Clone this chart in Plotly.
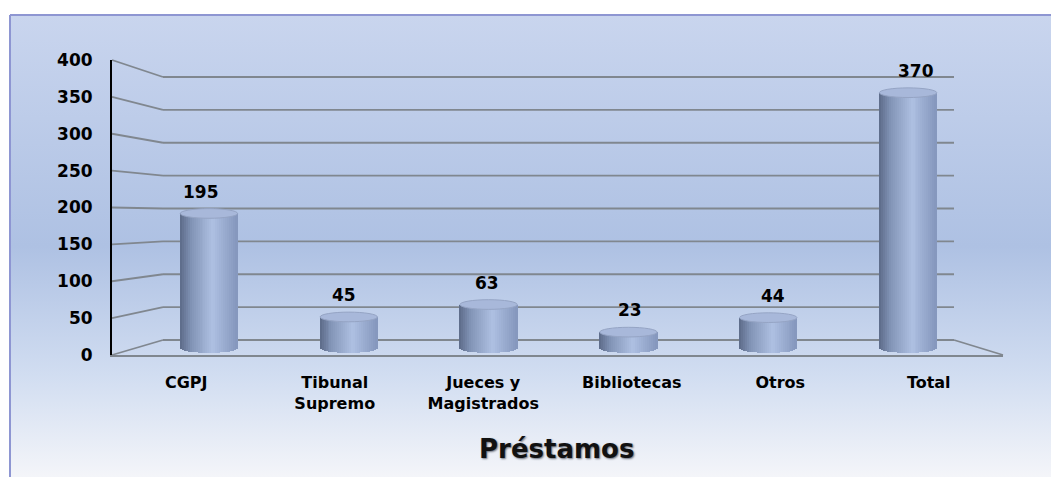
import base64
import math
import plotly.graph_objects as go

# ---------------- data ----------------
categories = ["CGPJ", "Tibunal<br>Supremo", "Jueces y<br>Magistrados", "Bibliotecas", "Otros", "Total"]
values = [195, 45, 63, 23, 44, 370]
y_ticks = [0, 50, 100, 150, 200, 250, 300, 350, 400]
chart_title = "Préstamos"

# ---------------- geometry (pixels of the 1051x477 reference) ----------------
W, H = 1051, 477


def px(x):
    return x / W


def py(y):
    return 1 - y / H


YMAX = 400
FRONT_X = (112, 1003)
FRONT_Y = (355, 60)      # pixel of 0 and 400 on the front plane
BACK_X = (163, 954)
BACK_Y = (340, 77)       # pixel of 0 and 400 on the back wall
BAR_X = (139, 978)
BAR_Y0 = 348
BAR_SCALE = 0.69         # px per unit for the cylinders
BAR_MIN = -14
LABEL_X = (129.5, 987.5)
BAR_W = 0.41
E = 7                    # half height of the cylinder ellipses (units)
N_SLICES = 29

FONT = "DejaVu Sans"
GRID = "#80878f"


def fy(v):
    return FRONT_Y[0] + (FRONT_Y[1] - FRONT_Y[0]) * v / YMAX


def by(v):
    return BACK_Y[0] + (BACK_Y[1] - BACK_Y[0]) * v / YMAX


def lerp(a, b, t):
    return tuple(int(round(a[i] + (b[i] - a[i]) * t)) for i in range(3))


stops = [(0.0, (92, 106, 136)), (0.2, (130, 148, 182)), (0.58, (174, 192, 226)), (1.0, (132, 150, 188))]


def grad(t):
    for (t0, c0), (t1, c1) in zip(stops[:-1], stops[1:]):
        if t <= t1:
            return "rgb(%d,%d,%d)" % lerp(c0, c1, (t - t0) / (t1 - t0))
    return "rgb(%d,%d,%d)" % stops[-1][1]


idx = list(range(len(categories)))
fig = go.Figure()

# front plane subplot (category labels, y tick labels)
fig.add_trace(go.Scatter(x=idx, y=[0] * len(idx), mode="markers", marker=dict(opacity=0),
                         hoverinfo="skip", xaxis="x", yaxis="y"))

# cylinders made of vertical slices
sw = BAR_W / N_SLICES
for k in range(N_SLICES):
    t = (k + 0.5) / N_SLICES
    s = -1 + 2 * t
    drop = E * math.sqrt(max(0.0, 1 - s * s))
    fig.add_trace(go.Bar(
        x=idx, y=[v + drop for v in values], base=[-drop] * len(values),
        width=sw * 1.5, offset=-BAR_W / 2 + k * sw - sw * 0.25,
        marker=dict(color=grad(t), line=dict(width=0)),
        hoverinfo="skip", xaxis="x3", yaxis="y3"))

# label subplot
fig.add_trace(go.Scatter(x=idx, y=values, mode="markers", marker=dict(opacity=0),
                         hoverinfo="skip", xaxis="x4", yaxis="y3"))

shapes = []
# top lids
for i, v in zip(idx, values):
    shapes.append(dict(type="circle", xref="x3", yref="y3",
                       x0=i - BAR_W / 2, x1=i + BAR_W / 2, y0=v - E, y1=v + E,
                       fillcolor="#a8b8da", line=dict(color="#95a4c4", width=1), layer="above"))

# back wall grid lines and perspective connectors
for v in y_ticks:
    shapes.append(dict(type="line", xref="paper", yref="paper",
                       x0=px(BACK_X[0]), y0=py(by(v)), x1=px(BACK_X[1]), y1=py(by(v)),
                       line=dict(color=GRID, width=1.8), layer="below"))
    shapes.append(dict(type="line", xref="paper", yref="paper",
                       x0=px(FRONT_X[0]), y0=py(fy(v)), x1=px(BACK_X[0]), y1=py(by(v)),
                       line=dict(color=GRID, width=1.8), layer="below"))
# right floor edge
shapes.append(dict(type="line", xref="paper", yref="paper",
                   x0=px(BACK_X[1]), y0=py(by(0)), x1=px(FRONT_X[1]), y1=py(fy(0)),
                   line=dict(color=GRID, width=1.8), layer="below"))
# frame
shapes.append(dict(type="line", xref="paper", yref="paper", x0=px(10), y0=py(15), x1=1, y1=py(15),
                   line=dict(color="#8e96d2", width=2)))
shapes.append(dict(type="line", xref="paper", yref="paper", x0=px(10), y0=py(15), x1=px(10), y1=0,
                   line=dict(color="#8e96d2", width=2)))

annotations = []
for i, v in zip(idx, values):
    annotations.append(dict(x=i, y=v, xref="x4", yref="y3", text=str(v), showarrow=False,
                            yanchor="bottom", yshift=E * BAR_SCALE + 5,
                            font=dict(family=FONT, size=17, color="black", weight="bold")))
annotations.append(dict(x=px(556), y=py(449), xref="paper", yref="paper", text=chart_title,
                        showarrow=False, xanchor="center", yanchor="middle",
                        font=dict(family=FONT, size=26, color="#111111", weight="bold",
                                  shadow="1px 1px 2px #6a6f7a")))

# background gradient
svg = ('<svg xmlns="http://www.w3.org/2000/svg" width="1041" height="462" preserveAspectRatio="none">'
       '<defs><linearGradient id="g" x1="0" y1="0" x2="0" y2="1">'
       '<stop offset="0" stop-color="#c9d5ee"/>'
       '<stop offset="0.5" stop-color="#aec1e3"/>'
       '<stop offset="0.78" stop-color="#d1ddf1"/>'
       '<stop offset="1" stop-color="#f4f5f9"/>'
       '</linearGradient></defs><rect width="1041" height="462" fill="url(#g)"/></svg>')
src = "data:image/svg+xml;base64," + base64.b64encode(svg.encode()).decode()

bar_bottom_px = BAR_Y0 - BAR_MIN * BAR_SCALE
bar_top_px = BAR_Y0 - YMAX * BAR_SCALE

hidden = dict(showgrid=False, zeroline=False, showticklabels=False, showline=False, ticks="",
              automargin=False)

fig.update_layout(
    width=W, height=H, autosize=False,
    margin=dict(l=0, r=0, t=0, b=0, pad=0, autoexpand=False),
    paper_bgcolor="white", plot_bgcolor="rgba(0,0,0,0)",
    barmode="overlay", bargap=0, showlegend=False,
    font=dict(family=FONT, size=17, color="black"),
    images=[dict(source=src, xref="paper", yref="paper", x=px(10), y=py(15),
                 sizex=1 - px(10), sizey=py(15), xanchor="left", yanchor="top",
                 sizing="stretch", layer="below")],
    shapes=shapes, annotations=annotations,
    xaxis=dict(domain=[px(FRONT_X[0]), px(FRONT_X[1])], range=[-0.5, len(idx) - 0.5],
               tickvals=idx, ticktext=categories, showgrid=False, zeroline=False,
               showline=True, linecolor=GRID, linewidth=1.8, ticks="",
               ticklabelstandoff=12, automargin=False,
               tickfont=dict(family=FONT, size=16, color="black", weight="bold"),
               anchor="y", fixedrange=True),
    yaxis=dict(domain=[py(FRONT_Y[0]), py(FRONT_Y[1])], range=[0, YMAX], tickvals=y_ticks,
               showgrid=False, zeroline=False, showline=True, linecolor="black", linewidth=2,
               ticks="", ticklabelstandoff=14, automargin=False,
               tickfont=dict(family=FONT, size=17, color="black", weight="bold"),
               anchor="x", fixedrange=True),
    xaxis3=dict(domain=[px(BAR_X[0]), px(BAR_X[1])], range=[-0.5, len(idx) - 0.5],
                anchor="y3", **hidden),
    yaxis3=dict(domain=[py(bar_bottom_px), py(bar_top_px)], range=[BAR_MIN, YMAX],
                anchor="x3", **hidden),
    xaxis4=dict(domain=[px(LABEL_X[0]), px(LABEL_X[1])], range=[-0.5, len(idx) - 0.5],
                anchor="y3", **hidden),
)

fig.write_html(
    "out.html",
    config={"displayModeBar": False},
    post_script=("document.documentElement.style.overflow='hidden';"
                 "document.body.style.margin='0';document.body.style.overflow='hidden';"),
)
